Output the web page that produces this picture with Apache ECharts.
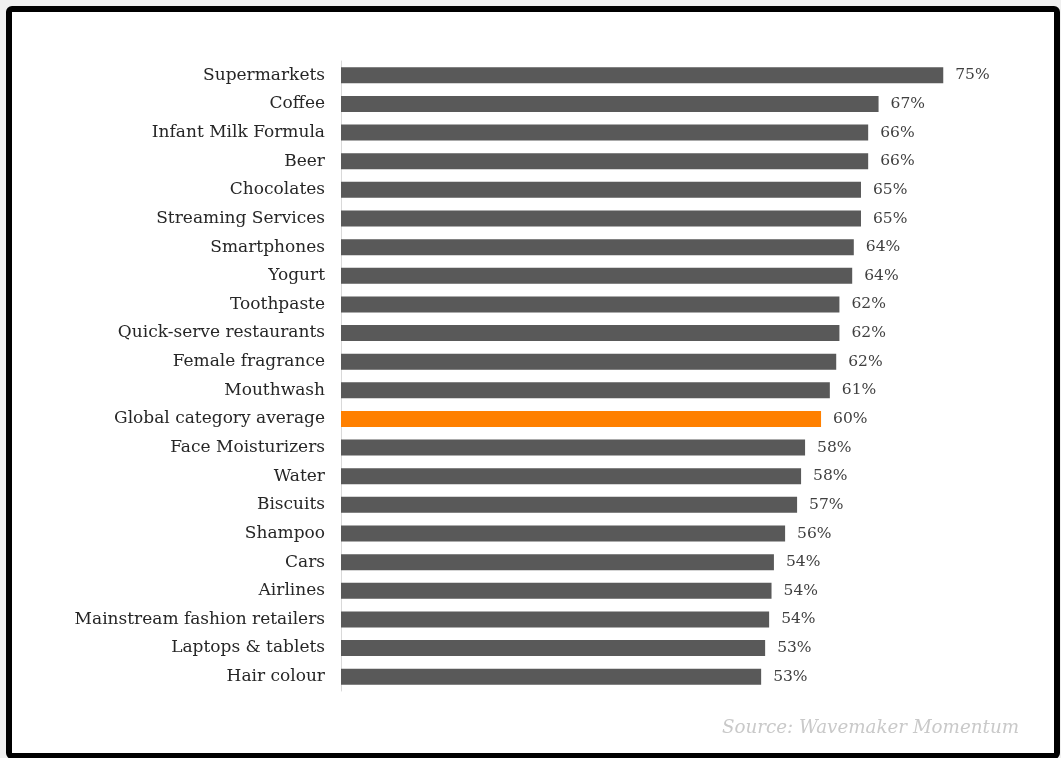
<!DOCTYPE html>
<html>
<head>
<meta charset="utf-8">
<title>Category chart</title>
<script src="https://cdn.jsdelivr.net/npm/echarts@6/dist/echarts.min.js"></script>
<style>
  html, body { margin: 0; padding: 0; background: #f0f0f0; }
  #chart { width: 1061px; height: 758px; }
</style>
</head>
<body>
<div id="chart"></div>
<script>
// categories, top to bottom
var categories = [
  'Supermarkets', 'Coffee', 'Infant Milk Formula', 'Beer', 'Chocolates',
  'Streaming Services', 'Smartphones', 'Yogurt', 'Toothpaste',
  'Quick-serve restaurants', 'Female fragrance', 'Mouthwash',
  'Global category average', 'Face Moisturizers', 'Water', 'Biscuits',
  'Shampoo', 'Cars', 'Airlines', 'Mainstream fashion retailers',
  'Laptops & tablets', 'Hair colour'
]
// share (%)
var values = [
  75.4, 67.3, 66.0, 66.0, 65.1,
  65.1, 64.2, 64.0, 62.4,
  62.4, 62.0, 61.2,
  60.1, 58.1, 57.6, 57.1,
  55.6, 54.2, 53.9, 53.6,
  53.1, 52.6
]
// labels printed next to bars
var valueLabels = [
  '75%', '67%', '66%', '66%', '65%',
  '65%', '64%', '64%', '62%',
  '62%', '62%', '61%',
  '60%', '58%', '58%', '57%',
  '56%', '54%', '54%', '54%',
  '53%', '53%'
]
var highlight = 'Global category average'

var chart = echarts.init(document.getElementById('chart'))
chart.setOption({
  backgroundColor: '#f0f0f0',
  animation: false,
  graphic: [{
    type: 'rect',
    z: -10,
    shape: { x: 9, y: 9, width: 1048, height: 747, r: 3 },
    style: { fill: '#ffffff', stroke: '#000000', lineWidth: 6 }
  }, {
    type: 'text',
    right: 42,
    top: 719,
    style: {
      text: 'Source: Wavemaker Momentum',
      fill: '#c9c9c9',
      font: 'italic 18.3px "DejaVu Serif", serif'
    }
  }],
  grid: {
    left: 341,
    right: 81,
    top: 61,
    bottom: 67,
    containLabel: false
  },
  xAxis: {
    type: 'value',
    min: 0,
    max: 80,
    show: false
  },
  yAxis: {
    type: 'category',
    inverse: true,
    data: categories,
    axisTick: { show: false },
    axisLine: { lineStyle: { color: '#d9d9d9', width: 1 } },
    axisLabel: {
      margin: 16,
      color: '#262626',
      fontFamily: '"DejaVu Serif", serif',
      fontSize: 17
    }
  },
  series: [{
    type: 'bar',
    barWidth: 16,
    data: values.map(function (v, i) {
      return {
        value: v,
        itemStyle: { color: categories[i] === highlight ? '#ff8000' : '#595959' }
      }
    }),
    label: {
      show: true,
      position: 'right',
      distance: 12,
      color: '#404040',
      fontFamily: '"DejaVu Serif", serif',
      fontSize: 15.5,
      formatter: function (p) { return valueLabels[p.dataIndex] }
    }
  }]
})
</script>
</body>
</html>
